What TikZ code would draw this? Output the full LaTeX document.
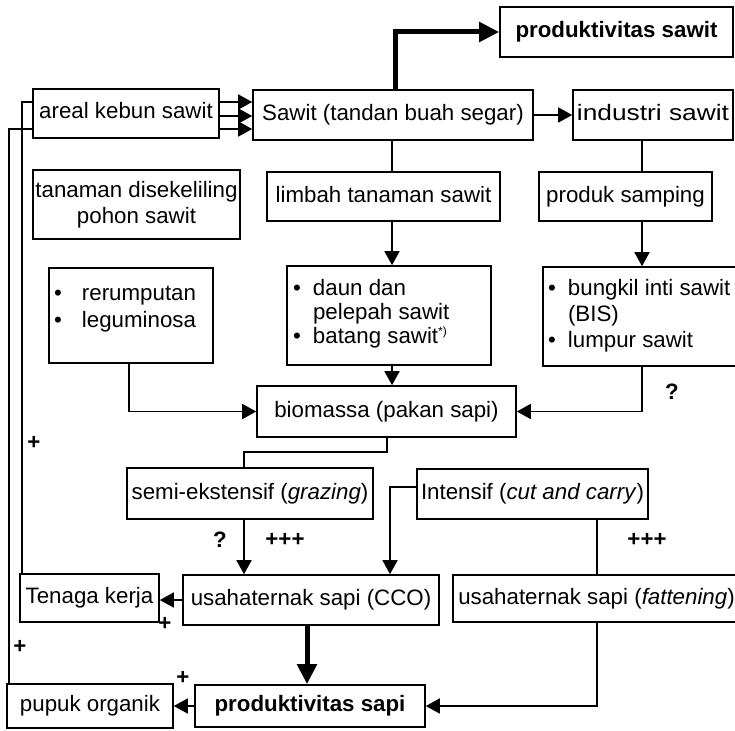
\documentclass[tikz,border=0pt]{standalone}
\usepackage{fontspec}
\setmainfont{Liberation Sans}
\newfontfamily\widefont[FakeStretch=1.18]{Liberation Sans}
\usetikzlibrary{arrows.meta,backgrounds}
\begin{document}
\begin{tikzpicture}[x=1pt,y=-1pt,
  font=\fontsize{22.3}{26}\selectfont,
  frame/.style={draw, line width=1.6pt, inner sep=0pt, fill=white},
  box/.style={frame, text height=16pt, text depth=5pt},
  boldtext/.style={font=\fontsize{22.3}{26}\selectfont\bfseries},
  conn/.style={line width=1.6pt},
  arr/.style={conn, -{Triangle[length=14pt,width=15pt]}},
  bigarr/.style={line width=5pt, -{Triangle[length=20pt,width=19pt]}},
  sign/.style={font=\fontsize{22.3}{26}\selectfont\bfseries, inner sep=0pt}
]
\useasboundingbox (0,0) rectangle (735,730);

% boxes
\node[box, minimum width=186pt, minimum height=49pt] (areal) at (126,113.5) {areal kebun sawit};
\node[box, minimum width=280pt, minimum height=50pt] (sawit) at (393,115) {Sawit (tandan buah segar)};
\node[box, boldtext, minimum width=233pt, minimum height=50pt] (prodsawit) at (616.5,32) {produktivitas sawit};
\node[box, minimum width=160pt, minimum height=50pt] (industri) at (653,115) {\widefont industri sawit};
\node[frame, minimum width=207pt, minimum height=69pt, align=center] (tanaman) at (136.5,204.5) {tanaman disekeliling\\pohon sawit};
\node[box, minimum width=233pt, minimum height=49pt] (limbah) at (383.5,196.5) {limbah tanaman sawit};
\node[box, minimum width=173pt, minimum height=49pt] (produk) at (625.5,196.5) {produk samping};

\node[frame] (rer) at (131,315.5) {\begin{minipage}[c][95pt][t]{164pt}\fontsize{22.3}{27}\selectfont
\vspace*{16pt}%
\hspace*{5pt}\makebox[28pt][l]{•}\rule{0pt}{16pt}rerumputan\par
\hspace*{5pt}\makebox[28pt][l]{•}leguminosa\par
\end{minipage}};

\node[frame] (daun) at (389,315.5) {\begin{minipage}[c][99pt][t]{204pt}\fontsize{22.3}{24}\selectfont
\vspace*{13pt}%
\hspace*{6pt}\makebox[20pt][l]{•}\rule{0pt}{16pt}daun dan\par
\hspace*{26pt}pelepah sawit\par
\hspace*{6pt}\makebox[20pt][l]{•}batang sawit\textsuperscript{\fontsize{12}{12}\selectfont *)}\par
\end{minipage}};

\node[frame] (bungkil) at (640,316.5) {\begin{minipage}[c][99pt][t]{194pt}\fontsize{22.3}{26}\selectfont
\vspace*{12pt}%
\hspace*{5pt}\makebox[20pt][l]{•}\rule{0pt}{16pt}bungkil inti sawit\par
\hspace*{25pt}(BIS)\par
\hspace*{5pt}\makebox[20pt][l]{•}lumpur sawit\par
\end{minipage}};

\node[box, minimum width=259pt, minimum height=51pt] (bio) at (386.5,411.5) {biomassa (pakan sapi)};
\node[box, minimum width=246pt, minimum height=51pt] (semi) at (250,493.5) {semi-ekstensif (\textit{grazing})};
\node[box, minimum width=231pt, minimum height=50pt] (intensif) at (532.5,494) {Intensif (\textit{cut and carry})};
\node[box, minimum width=139pt, minimum height=48pt] (tenaga) at (89.5,598) {Tenaga kerja};
\node[box, minimum width=256pt, minimum height=50pt] (cco) at (311,600) {usahaternak sapi (CCO)};
\node[box, minimum width=287pt, minimum height=47pt] (fat) at (596.5,598.5) {usahaternak sapi (\textit{fattening})};
\node[box, boldtext, minimum width=230pt, minimum height=42pt] (prodsapi) at (310,706) {produktivitas sapi};
\node[box, minimum width=166pt, minimum height=44pt] (pupuk) at (90,706) {pupuk organik};

% feedback lines behind the areal box
\begin{scope}[on background layer]
\draw[arr] (22,0 |- tenaga.north) -- (22,102) -- (sawit.west |- 0,102);
\draw[arr] (9,0 |- pupuk.north) -- (9,129) -- (sawit.west |- 0,129);
\end{scope}
\draw[arr] (areal.east |- 0,116) -- (sawit.west |- 0,116);

% connectors
\draw[bigarr] (395,0 |- sawit.north) |- (prodsawit.west);
\draw[arr] (sawit.east) -- (industri.west);
\draw[conn] (392,0 |- sawit.south) -- (392,0 |- limbah.north);
\draw[conn] (642,0 |- industri.south) -- (642,0 |- produk.north);
\draw[arr] (392,0 |- limbah.south) -- (392,0 |- daun.north);
\draw[arr] (642,0 |- produk.south) -- (642,0 |- bungkil.north);
\draw[arr] (392,0 |- daun.south) -- (392,0 |- bio.north);
\draw[arr] (129,0 |- rer.south) |- (bio.west);
\draw[arr] (642,0 |- bungkil.south) |- (bio.east);
\draw[conn] (387,0 |- bio.south) -- (387,452) -| (244,0 |- semi.north);
\draw[arr] (244,0 |- semi.south) -- (244,0 |- cco.north);
\draw[arr] (intensif.west |- 0,487) -| (390,0 |- cco.north);
\draw[line width=1.1pt] (597,0 |- intensif.south) -- (597,0 |- fat.north);
\draw[arr] (cco.west) -- (tenaga.east |- cco.west);
\draw[bigarr] (307,0 |- cco.south) -- (307,0 |- prodsapi.north);
\draw[arr] (597,0 |- fat.south) |- (prodsapi.east);
\draw[arr] (prodsapi.west) -- (pupuk.east |- prodsapi.west);

% signs
\node[sign] (s1) at (34,443) {+};
\node[sign] (s2) at (165,624) {+};
\node[sign] (s3) at (20,647) {+};
\node[sign] (s4) at (183,678) {+};
\node[sign] (q1) at (672,392) {?};
\node[sign] (q2) at (220,540) {?};
\node[sign] (p1) at (285,540) {+++};
\node[sign] (p2) at (647,540) {+++};
\end{tikzpicture}
\end{document}
